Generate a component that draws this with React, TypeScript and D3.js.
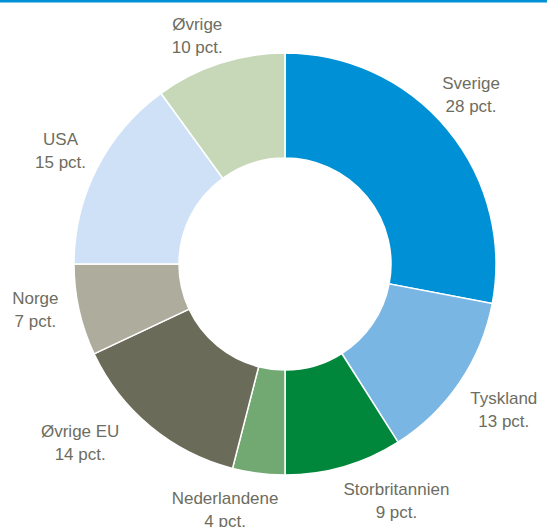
import { arc, pie, select } from "d3";
import { useEffect, useRef } from "react";

const countries = [
  "Sverige",
  "Tyskland",
  "Storbritannien",
  "Nederlandene",
  "Øvrige EU",
  "Norge",
  "USA",
  "Øvrige",
];
const shares = [28, 13, 9, 4, 14, 7, 15, 10];
const colors = [
  "#0090d5",
  "#79b6e3",
  "#00873b",
  "#72a972",
  "#6b6b59",
  "#aeac9d",
  "#cee1f6",
  "#c6d8b8",
];
// hand placed label tweaks (px) on top of the elliptical layout
const labelNudge: [number, number][] = [
  [-20, -12],
  [-5, 7],
  [3, -1],
  [-11, 0],
  [-19, -12],
  [-2, -8],
  [6, -1],
  [7, 6],
];

const W = 547;
const H = 527;

export default function App() {
  const svgRef = useRef<SVGSVGElement | null>(null);

  useEffect(() => {
    if (!svgRef.current) return;
    const svg = select(svgRef.current);
    svg.selectAll("*").remove();

    const cx = 285;
    const cy = 264;
    const outer = 211;
    const inner = 106;

    svg
      .append("rect")
      .attr("x", 0)
      .attr("y", 0)
      .attr("width", W)
      .attr("height", 2.5)
      .attr("fill", "#0090d5");

    const slices = pie<number>()
      .sort(null)
      .value((d) => d)(shares);
    const arcGen = arc<any>().innerRadius(inner).outerRadius(outer);

    const g = svg.append("g").attr("transform", `translate(${cx},${cy})`);
    g.selectAll("path")
      .data(slices)
      .join("path")
      .attr("d", arcGen)
      .attr("fill", (_, i) => colors[i])
      .attr("stroke", "#fff")
      .attr("stroke-width", 1.5);

    // labels: elliptical placement pushed outwards by the text width
    const rx = 230;
    const ry = 247;
    const lineGap = 23;
    slices.forEach((s, i) => {
      const mid = (s.startAngle + s.endAngle) / 2;
      const sin = Math.sin(mid);
      const cos = Math.cos(mid);
      const text = svg
        .append("text")
        .attr("text-anchor", "middle")
        .attr("font-family", "Liberation Sans, Arial, sans-serif")
        .attr("font-size", 17)
        .attr("fill", "#6d6d5f");
      const l1 = text.append("tspan").text(countries[i]);
      const l2 = text.append("tspan").text(`${shares[i]} pct.`);
      const w = Math.max(
        (l1.node() as SVGTSpanElement).getComputedTextLength(),
        (l2.node() as SVGTSpanElement).getComputedTextLength(),
      );
      const [nx, ny] = labelNudge[i];
      const x =
        cx + rx * sin + Math.sign(sin) * (w / 2) * Math.min(1, 3 * Math.abs(sin)) + nx;
      const y = cy - ry * cos + ny;
      const base = y - 5.5;
      l1.attr("x", x).attr("y", base);
      l2.attr("x", x).attr("y", base + lineGap);
    });
  }, []);

  return (
    <svg
      ref={svgRef}
      width={W}
      height={H}
      style={{ position: "absolute", left: 0, top: 0, background: "#fff" }}
    />
  );
}
